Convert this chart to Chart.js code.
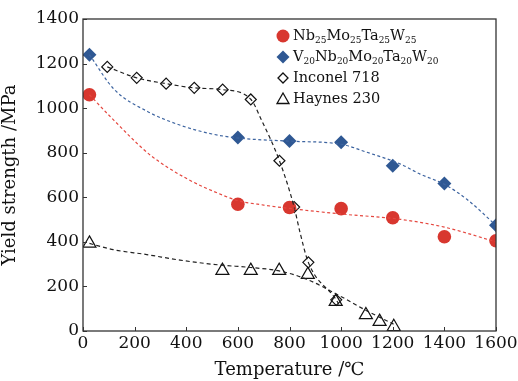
<!DOCTYPE html>
<html>
<head>
<meta charset="utf-8">
<script src="https://cdn.jsdelivr.net/npm/chart.js@4/dist/chart.umd.min.js"></script>
<style>
  html, body { margin: 0; padding: 0; background: #fff; }
  #wrap { width: 518px; height: 381px; }
</style>
</head>
<body>
<div id="wrap"><canvas id="myChart" width="518" height="381"></canvas></div>
<script>
// measured points
const nbTemp = [25, 600, 800, 1000, 1200, 1400, 1600]
const nbYield = [1060, 569, 554, 549, 508, 423, 405]
const vTemp = [25, 600, 800, 1000, 1200, 1400, 1600]
const vYield = [1240, 868, 853, 847, 741, 662, 474]
const incTemp = [94, 208, 322, 431, 541, 650, 761, 818, 873, 981]
const incYield = [1185, 1136, 1110, 1091, 1083, 1039, 764, 556, 308, 140]
const hayTemp = [25, 540, 650, 760, 871, 979, 1096, 1149, 1204]
const hayYield = [393, 271, 271, 271, 253, 132, 72, 42, 19]

// dashed trend lines
const nbFitTemp = [25, 120, 260, 400, 540, 600, 700, 800, 1000, 1230, 1400, 1600]
const nbFitYield = [1060, 945, 790, 685, 610, 585, 565, 550, 525, 501, 466, 400]
const vFitTemp = [25, 120, 250, 380, 500, 600, 800, 1000, 1100, 1230, 1306, 1400, 1487, 1600]
const vFitYield = [1240, 1085, 985, 922, 884, 866, 852, 838, 802, 749, 704, 658, 591, 474]
const incFitTemp = [94, 208, 322, 431, 541, 650, 692, 761, 818, 841, 873, 981, 996]
const incFitYield = [1185, 1136, 1110, 1091, 1083, 1040, 945, 764, 556, 441, 308, 140, 110]
const hayFitTemp = [25, 117, 247, 376, 531, 650, 763, 867, 983, 1099, 1203]
const hayFitYield = [393, 365, 343, 318, 296, 285, 269, 232, 165, 91, 31]

const xTicks = [0, 200, 400, 600, 800, 1000, 1200, 1400, 1600]
const yTicks = [0, 200, 400, 600, 800, 1000, 1200, 1400]

const serif = '"DejaVu Serif", "Liberation Serif", serif'
const red = '#d8372f'
const blue = '#2f5893'

const pairs = (xs, ys) => xs.map((x, i) => ({ x: x, y: ys[i] }))

const fitLine = (xs, ys, color, dash) => ({
    data: pairs(xs, ys),
    showLine: true,
    borderColor: color,
    borderWidth: 1.2,
    borderDash: dash,
    pointRadius: 0,
    cubicInterpolationMode: 'monotone',
    fill: false,
})

// box round the plot, ticks pointing inwards
const framePlugin = {
    id: 'frame',
    afterDraw(chart) {
        const { ctx, chartArea: a, scales } = chart
        ctx.save()
        ctx.strokeStyle = '#333'
        ctx.lineWidth = 1.3
        ctx.strokeRect(a.left, a.top, a.right - a.left, a.bottom - a.top)
        ctx.lineWidth = 1
        ctx.beginPath()
        xTicks.forEach((t) => {
            const px = Math.round(scales.x.getPixelForValue(t)) + 0.5
            ctx.moveTo(px, a.bottom)
            ctx.lineTo(px, a.bottom - 4)
        })
        yTicks.forEach((t) => {
            const py = Math.round(scales.y.getPixelForValue(t)) + 0.5
            ctx.moveTo(a.left, py)
            ctx.lineTo(a.left + 4, py)
        })
        ctx.stroke()
        ctx.restore()
    },
}

// legend with subscripts
const legendRows = [
    { parts: [['Nb'], ['25', 1], ['Mo'], ['25', 1], ['Ta'], ['25', 1], ['W'], ['25', 1]], mark: 'circle' },
    { parts: [['V'], ['20', 1], ['Nb'], ['20', 1], ['Mo'], ['20', 1], ['Ta'], ['20', 1], ['W'], ['20', 1]], mark: 'diamond' },
    { parts: [['Inconel 718']], mark: 'odiamond' },
    { parts: [['Haynes 230']], mark: 'triangle' },
]

const legendPlugin = {
    id: 'subLegend',
    afterDraw(chart) {
        const { ctx, chartArea: a } = chart
        const mx = a.left + 200
        const tx = a.left + 210
        ctx.save()
        legendRows.forEach((row, i) => {
            const y = a.top + 17 + i * 21
            ctx.beginPath()
            if (row.mark === 'circle') {
                ctx.fillStyle = red
                ctx.arc(mx, y, 6.5, 0, Math.PI * 2)
                ctx.fill()
            } else if (row.mark === 'diamond') {
                ctx.fillStyle = blue
                ctx.moveTo(mx, y - 6.5); ctx.lineTo(mx + 6.5, y); ctx.lineTo(mx, y + 6.5); ctx.lineTo(mx - 6.5, y)
                ctx.closePath()
                ctx.fill()
            } else if (row.mark === 'odiamond') {
                ctx.strokeStyle = '#111'
                ctx.lineWidth = 1.3
                ctx.moveTo(mx, y - 5); ctx.lineTo(mx + 5, y); ctx.lineTo(mx, y + 5); ctx.lineTo(mx - 5, y)
                ctx.closePath()
                ctx.stroke()
            } else {
                ctx.strokeStyle = '#111'
                ctx.lineWidth = 1.3
                ctx.moveTo(mx, y - 6); ctx.lineTo(mx + 6, y + 4.5); ctx.lineTo(mx - 6, y + 4.5)
                ctx.closePath()
                ctx.stroke()
            }
            let x = tx
            ctx.fillStyle = '#111'
            ctx.textBaseline = 'middle'
            row.parts.forEach(([t, sub]) => {
                ctx.font = (sub ? '9px ' : '14.5px ') + serif
                ctx.fillText(t, x, sub ? y + 5 : y)
                x += ctx.measureText(t).width
            })
        })
        ctx.restore()
    },
}

const ctx = document.getElementById('myChart')

const myChart = new Chart(ctx, {
    type: 'scatter',
    data: {
        datasets: [
            fitLine(nbFitTemp, nbFitYield, '#e5473f', [3, 2.5]),
            fitLine(vFitTemp, vFitYield, '#3d64a0', [3, 2.5]),
            fitLine(incFitTemp, incFitYield, '#222', [4, 3]),
            fitLine(hayFitTemp, hayFitYield, '#222', [4, 3]),
            {
                data: pairs(nbTemp, nbYield),
                pointStyle: 'circle',
                pointRadius: 6.8,
                backgroundColor: red,
                borderColor: red,
                borderWidth: 0,
            },
            {
                data: pairs(vTemp, vYield),
                pointStyle: 'rectRot',
                pointRadius: 7,
                backgroundColor: blue,
                borderColor: blue,
                borderWidth: 0,
            },
            {
                data: pairs(incTemp, incYield),
                pointStyle: 'rectRot',
                pointRadius: 5.5,
                backgroundColor: 'rgba(255,255,255,0)',
                borderColor: '#111',
                borderWidth: 1.2,
            },
            {
                data: pairs(hayTemp, hayYield),
                pointStyle: 'triangle',
                pointRadius: 7.5,
                backgroundColor: 'rgba(255,255,255,0)',
                borderColor: '#111',
                borderWidth: 1.2,
            },
        ],
    },
    options: {
        responsive: false,
        animation: false,
        layout: { padding: { top: 19, right: 22, left: 0, bottom: 0 } },
        plugins: {
            legend: { display: false },
            tooltip: { enabled: false },
        },
        scales: {
            x: {
                type: 'linear',
                min: 0,
                max: 1600,
                afterBuildTicks: (s) => { s.ticks = xTicks.map((v) => ({ value: v })) },
                afterFit: (s) => { s.height = 50; s.paddingRight = 0; s.paddingLeft = 0 },
                grid: { display: false, drawTicks: false },
                border: { display: false },
                ticks: {
                    color: '#111',
                    padding: 2,
                    maxRotation: 0,
                    minRotation: 0,
                    autoSkip: false,
                    font: { family: serif, size: 17 },
                    callback: (v) => String(v),
                },
                title: {
                    display: true,
                    text: 'Temperature /℃',
                    color: '#111',
                    padding: { top: 0, bottom: 0 },
                    font: { family: serif, size: 18 },
                },
            },
            y: {
                type: 'linear',
                min: 0,
                max: 1400,
                afterBuildTicks: (s) => { s.ticks = yTicks.map((v) => ({ value: v })) },
                afterFit: (s) => { s.width = 83; s.paddingTop = 0; s.paddingBottom = 0 },
                grid: { display: false, drawTicks: false },
                border: { display: false },
                ticks: {
                    color: '#111',
                    padding: 4,
                    font: { family: serif, size: 17 },
                    callback: (v) => String(v),
                },
                title: {
                    display: true,
                    text: 'Yield strength /MPa',
                    color: '#111',
                    padding: { top: 0, bottom: 0 },
                    font: { family: serif, size: 18 },
                },
            },
        },
    },
    plugins: [framePlugin, legendPlugin],
})
</script>
</body>
</html>
